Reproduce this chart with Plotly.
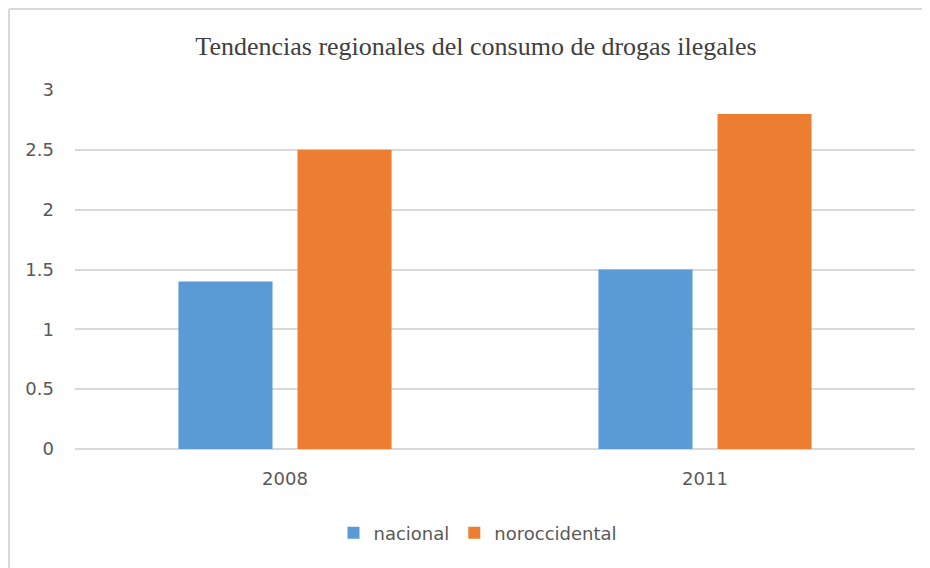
import plotly.graph_objects as go

categories = ["2008", "2011"]
nacional = [1.4, 1.5]
noroccidental = [2.5, 2.8]
y_ticks = [0, 0.5, 1, 1.5, 2, 2.5, 3]
y_tick_labels = ["0", "0.5", "1", "1.5", "2", "2.5", "3"]

# page is rendered with an 8px body margin, so figure coords = page coords - 8
OFF = 8
W, H = 930, 568
L = 75 - OFF
T = 90 - OFF
R = W - (915 - OFF)
B = H - (449 - OFF)
pw, ph = W - L - R, H - T - B

fig = go.Figure()
fig.add_trace(go.Bar(name="nacional", x=categories, y=nacional,
                     marker=dict(color="#5B9BD5", line=dict(width=0))))
fig.add_trace(go.Bar(name="noroccidental", x=categories, y=noroccidental,
                     marker=dict(color="#ED7D31", line=dict(width=0))))

# chart frame (light gray), only the top and left edges are visible
bx0 = (1 - L) / pw
by1 = (H - B - 1) / ph
fig.add_shape(type="line", xref="paper", yref="paper",
              x0=bx0, x1=(W - L) / pw, y0=by1, y1=by1,
              line=dict(color="#D9D9D9", width=2), layer="below")
fig.add_shape(type="line", xref="paper", yref="paper",
              x0=bx0, x1=bx0, y0=by1, y1=-B / ph,
              line=dict(color="#D9D9D9", width=2), layer="below")

fig.update_layout(
    width=W, height=H,
    margin=dict(l=L, r=R, t=T, b=B),
    paper_bgcolor="white", plot_bgcolor="white",
    barmode="group", bargap=0.433, bargroupgap=0.21,
    title=dict(text="Tendencias regionales del consumo de drogas ilegales",
               x=(476 - OFF) / W, xref="container", xanchor="center",
               y=1 - (46 - OFF) / H, yref="container", yanchor="middle",
               font=dict(family="Liberation Serif", size=26, color="#404040")),
    font=dict(family="DejaVu Sans", size=18, color="#595959"),
    xaxis=dict(showgrid=False, showline=False, ticks="", ticklabelstandoff=17,
               tickfont=dict(size=18, color="#595959")),
    yaxis=dict(range=[0, 3], tickvals=y_ticks, ticktext=y_tick_labels,
               showgrid=True, gridcolor="#D9D9D9", gridwidth=1.5,
               zeroline=True, zerolinecolor="#D9D9D9", zerolinewidth=1.5,
               showline=False, ticks="", ticklabelstandoff=20,
               tickfont=dict(size=18, color="#595959")),
    legend=dict(orientation="h", x=(478 - OFF - L) / pw, xanchor="center",
                y=(H - B - (533 - OFF)) / ph, yanchor="middle",
                font=dict(size=18, color="#595959"), itemwidth=30),
    showlegend=True,
)

fig.write_html("out.html")
